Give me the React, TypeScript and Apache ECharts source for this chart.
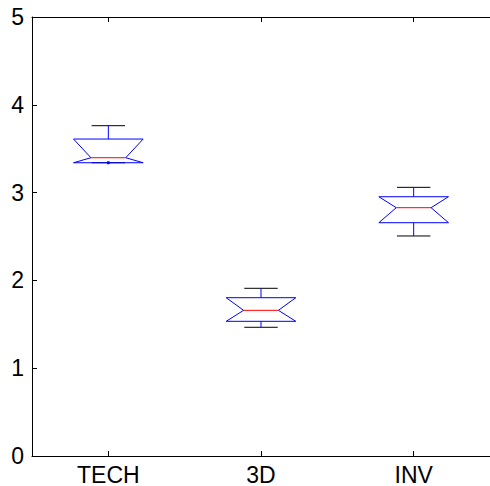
import React, { useEffect, useRef } from "react";
import * as echarts from "echarts";

const categories = ["TECH", "3D", "INV"];
const lowerWhisker = [3.34, 1.466, 2.506];
const q1 = [3.34, 1.534, 2.657];
const median = [3.397, 1.659, 2.828];
const q3 = [3.61, 1.803, 2.953];
const upperWhisker = [3.762, 1.91, 3.06];
const yTicks = [0, 1, 2, 3, 4, 5];

export default function App() {
  const ref = useRef<HTMLDivElement>(null);
  useEffect(() => {
    if (!ref.current) return;
    const chart = echarts.init(ref.current, null, { renderer: "svg" });
    const font = "'Liberation Sans', Arial, Helvetica, sans-serif";
    const data = categories.map((c, i) => [i, lowerWhisker[i], q1[i], median[i], q3[i], upperWhisker[i]]);
    const axisLine = { show: true, lineStyle: { color: "#000", width: 1 } };
    chart.setOption({
      animation: false,
      grid: {
        left: 32,
        top: 17,
        width: 462,
        height: 439,
        show: false,
      },
      xAxis: [
        {
          type: "category",
          data: categories,
          boundaryGap: true,
          position: "bottom",
          axisLine,
          axisTick: { show: true, inside: true, alignWithLabel: true, length: 5, lineStyle: { color: "#000" } },
          axisLabel: { color: "#000", fontSize: 23, fontFamily: font, margin: 7 },
          splitLine: { show: false },
        },
        {
          type: "category",
          data: categories,
          boundaryGap: true,
          position: "top",
          axisLine,
          axisTick: { show: true, inside: true, alignWithLabel: true, length: 5, lineStyle: { color: "#000" } },
          axisLabel: { show: false },
          splitLine: { show: false },
        },
      ],
      yAxis: {
        type: "value",
        min: yTicks[0],
        max: yTicks[yTicks.length - 1],
        interval: 1,
        axisLine,
        axisTick: { show: true, inside: true, length: 5, lineStyle: { color: "#000" } },
        axisLabel: { color: "#000", fontSize: 23, fontFamily: font, margin: 8 },
        splitLine: { show: false },
      },
      series: [
        {
          type: "custom",
          xAxisIndex: 0,
          data,
          renderItem: (params: any, api: any) => {
            const x = api.value(0);
            const band = api.size([1, 0])[0];
            const half = band * 0.228;
            const inset = half * 0.5;
            const capHalf = half * 0.48;
            const pLw = api.coord([x, api.value(1)]);
            const pQ1 = api.coord([x, api.value(2)]);
            const pMed = api.coord([x, api.value(3)]);
            const pQ3 = api.coord([x, api.value(4)]);
            const pUw = api.coord([x, api.value(5)]);
            const cx = pMed[0];
            const children: any[] = [
              {
                type: "line",
                shape: { x1: cx - capHalf, y1: pUw[1], x2: cx + capHalf, y2: pUw[1] },
                style: { stroke: "#000", lineWidth: 1 },
              },
              {
                type: "line",
                shape: { x1: cx - capHalf, y1: pLw[1], x2: cx + capHalf, y2: pLw[1] },
                style: { stroke: "#000", lineWidth: 1 },
              },
              {
                type: "line",
                shape: { x1: cx, y1: pUw[1], x2: cx, y2: pQ3[1] },
                style: { stroke: "#0000ff", lineWidth: 1 },
              },
              {
                type: "line",
                shape: { x1: cx, y1: pQ1[1], x2: cx, y2: pLw[1] },
                style: { stroke: "#0000ff", lineWidth: 1 },
              },
              {
                type: "polygon",
                shape: {
                  points: [
                    [cx - half, pQ3[1]],
                    [cx + half, pQ3[1]],
                    [cx + half - inset, pMed[1]],
                    [cx + half, pQ1[1]],
                    [cx - half, pQ1[1]],
                    [cx - half + inset, pMed[1]],
                  ],
                },
                style: { stroke: "#0000ff", fill: "none", lineWidth: 1 },
              },
              {
                type: "line",
                shape: { x1: cx - half + inset, y1: pMed[1], x2: cx + half - inset, y2: pMed[1] },
                style: { stroke: "#ff0000", lineWidth: 1 },
              },
            ];
            if (Math.abs(pLw[1] - pQ1[1]) < 1) {
              children.push({
                type: "circle",
                shape: { cx, cy: pLw[1], r: 1.6 },
                style: { fill: "#0000ff" },
              });
            }
            if (Math.abs(pUw[1] - pQ3[1]) < 1) {
              children.push({
                type: "circle",
                shape: { cx, cy: pUw[1], r: 1.6 },
                style: { fill: "#0000ff" },
              });
            }
            return { type: "group", children };
          },
        },
      ],
    });
    return () => chart.dispose();
  }, []);
  return (
    <div
      ref={ref}
      style={{ position: "fixed", left: 0, top: 0, width: 490, height: 486, background: "#fff" }}
    />
  );
}
